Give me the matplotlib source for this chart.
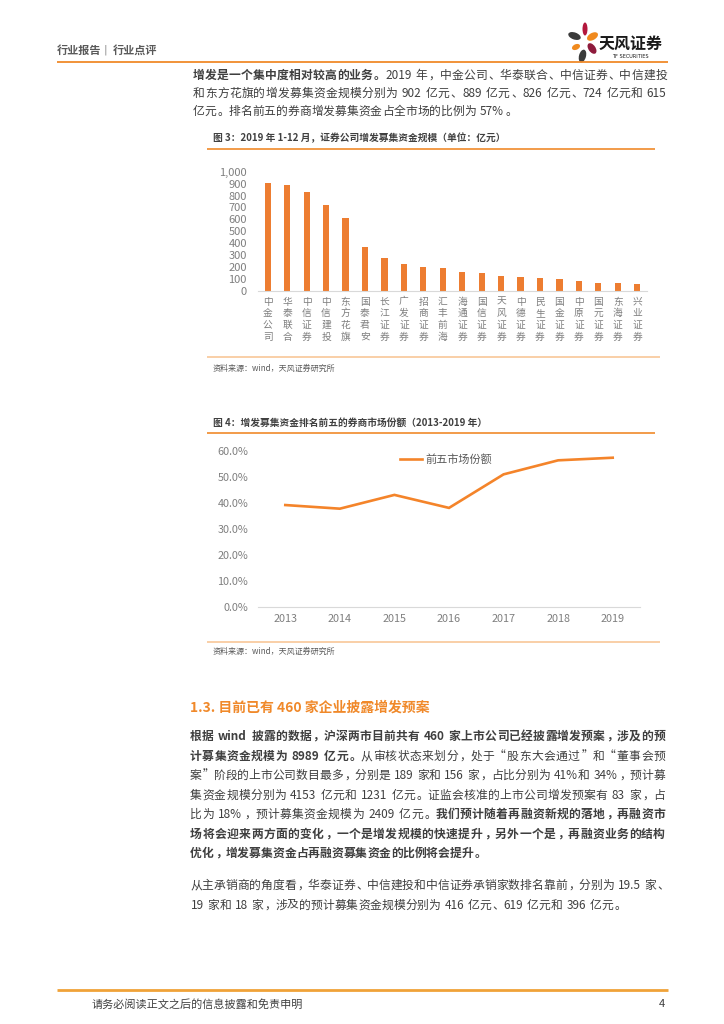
import math
import matplotlib
matplotlib.use('Agg')
import matplotlib.pyplot as plt
from matplotlib.patches import Ellipse
from matplotlib.backends.backend_agg import get_hinting_flag

plt.rcParams['font.family'] = ['Noto Sans CJK SC', 'DejaVu Sans']

################ data ################

brokers = ['中金公司', '华泰联合', '中信证券', '中信建投', '东方花旗', '国泰君安', '长江证券',
           '广发证券', '招商证券', '汇丰前海', '海通证券', '国信证券', '天风证券', '中德证券',
           '民生证券', '国金证券', '中原证券', '国元证券', '东海证券', '兴业证券']
raise_amt = [902, 889, 826, 724, 615, 366, 280, 224, 202, 194,
             157, 152, 127, 115, 106, 102, 88, 71, 70, 60]
bar_ticks = [0, 100, 200, 300, 400, 500, 600, 700, 800, 900, 1000]

years = ['2013', '2014', '2015', '2016', '2017', '2018', '2019']
top5_share = [0.391, 0.377, 0.430, 0.380, 0.509, 0.563, 0.573]
share_ticks = [0.0, 0.1, 0.2, 0.3, 0.4, 0.5, 0.6]

p1 = [
    [('增发是一个集中度相对较高的业务。', 'bold'), ('2019 年，中金公司、华泰联合、中信证券、中信建投', 'normal')],
    [('和东方花旗的增发募集资金规模分别为 902 亿元、889 亿元、826 亿元、724 亿元和 615', 'normal')],
    [('亿元。排名前五的券商增发募集资金占全市场的比例为 57%。', 'normal')],
]
p2 = [
    [('根据 wind 披露的数据，沪深两市目前共有 460 家上市公司已经披露增发预案，涉及的预', 'bold')],
    [('计募集资金规模为 8989 亿元。', 'bold'), ('从审核状态来划分，处于“股东大会通过”和“董事会预', 'normal')],
    [('案”阶段的上市公司数目最多，分别是 189 家和 156 家，占比分别为 41%和 34%，预计募', 'normal')],
    [('集资金规模分别为 4153 亿元和 1231 亿元。证监会核准的上市公司增发预案有 83 家，占', 'normal')],
    [('比为 18%，预计募集资金规模为 2409 亿元。', 'normal'), ('我们预计随着再融资新规的落地，再融资市', 'bold')],
    [('场将会迎来两方面的变化，一个是增发规模的快速提升，另外一个是，再融资业务的结构', 'bold')],
    [('优化，增发募集资金占再融资募集资金的比例将会提升。', 'bold')],
]
p3 = [
    [('从主承销商的角度看，华泰证券、中信建投和中信证券承销家数排名靠前，分别为 19.5 家、', 'normal')],
    [('19 家和 18 家，涉及的预计募集资金规模分别为 416 亿元、619 亿元和 396 亿元。', 'normal')],
]

W, H = 724, 1024
ORANGE = '#F08A2A'
TEXT = '#3F3F3F'
GREY = '#7F7F7F'

fig = plt.figure(figsize=(W / 100, H / 100), dpi=100)
pg = fig.add_axes([0, 0, 1, 1])
pg.set_xlim(0, W)
pg.set_ylim(H, 0)
pg.axis('off')
renderer = fig.canvas.get_renderer()


def baseline_error(o):
    '''
    Agg rounds each text bitmap on its own, so single glyphs can land one pixel
    off the baseline. This returns that offset (in pixels, downward) for a text.
    '''
    try:
        font = renderer._prepare_font(o.get_fontproperties())
        font.set_text(o.get_text(), 0, flags=get_hinting_flag())
        w, h = font.get_width_height()
        d = font.get_descent()
        ymax = (h - d) / 64
        nymin = d / 64
        fa = ymax - math.floor(ymax)
        fb = nymin - math.floor(nymin)
        return (1 if fb >= 0.5 else 0) - (1 if fa + fb >= 1 else 0)
    except Exception:
        return 0


def draw_line(segs, x0, y, size=8.5, color=TEXT, x1=None):
    '''
    Draws one line of mixed Chinese / latin text, justified up to x1 if given
    '''
    em = size * 100 / 72
    toks = []
    for text, w in segs:
        buf = ''
        for ch in text:
            if ch == ' ' or ord(ch) > 0x2000:
                if buf:
                    toks.append((buf, w, 'a'))
                    buf = ''
                toks.append((ch, w, 's' if ch == ' ' else 'c'))
            else:
                buf += ch
        if buf:
            toks.append((buf, w, 'a'))

    base = round(y + 0.37 * em)
    objs, widths = [], []
    for t, w, k in toks:
        if k == 's':
            objs.append(None)
            widths.append(0.28 * em)
            continue
        o = pg.text(0, base, t, fontsize=size, fontweight=w, color=color, va='baseline')
        o.set_y(base - baseline_error(o))
        objs.append(o)
        if k == 'c':
            widths.append(em)
        else:
            widths.append(o.get_window_extent(renderer).width + 0.08 * em)

    gap = 0
    if x1 is not None and len(toks) > 1:
        gap = (x1 - x0 - sum(widths)) / (len(toks) - 1)
    x = x0
    for (t, w, k), o, wd in zip(toks, objs, widths):
        if o is not None:
            if k == 'c':
                if t in '，。、：；）”':
                    o.set_x(x + 0.1 * em)
                    o.set_ha('left')
                elif t in '（“':
                    o.set_x(x + 0.9 * em)
                    o.set_ha('right')
                else:
                    o.set_x(x + em / 2)
                    o.set_ha('center')
            else:
                o.set_x(x + 0.04 * em)
        x += wd + gap


def draw_par(lines, x0, y0, step, x1):
    for i, segs in enumerate(lines):
        last = (i == len(lines) - 1)
        draw_line(segs, x0, y0 + i * step, x1=None if last else x1)


################ header ################

pg.text(57, 50, '行业报告', fontsize=8, fontweight='bold', color='#595959', va='center')
pg.text(104, 50, '|', fontsize=8, color='#8C8C8C', va='center', family='DejaVu Sans')
pg.text(113, 50, '行业点评', fontsize=8, fontweight='bold', color='#595959', va='center')
pg.plot([57, 668], [61.5, 61.5], color=ORANGE, lw=1.3, solid_capstyle='butt')

# logo petals
petals = [((585, 29), 5, 13, 0, '#B3173C'),
          ((592.5, 36.5), 7, 12, 60, '#F08A1E'),
          ((574.5, 36), 7, 13, -70, '#3B3B3B'),
          ((576, 47), 5.5, 8.5, 65, '#F08A1E'),
          ((592, 48.5), 7, 12, -35, '#8E1B3C'),
          ((582.5, 56), 7, 13, 15, '#3B3B3B')]
for xy, wd, ht, ang, col in petals:
    pg.add_patch(Ellipse(xy, wd, ht, angle=ang, color=col, lw=0))
pg.text(599, 44, '天风证券', fontsize=11.5, fontweight='bold', color='#1A1A1A', va='center')
pg.text(612, 56.5, 'TF SECURITIES', fontsize=3.6, color='#1A1A1A', va='center', family='DejaVu Sans')

################ paragraph 1 ################

draw_par(p1, 193, 75, 18, 667)

################ figure 3 ################

pg.text(213, 138, '图 3：2019 年 1-12 月，证券公司增发募集资金规模（单位：亿元）',
        fontsize=7, fontweight='bold', color='#404040', va='center')
pg.plot([207, 655], [148.5, 148.5], color=ORANGE, lw=1.2, solid_capstyle='butt')

ax1 = fig.add_axes([258 / W, 1 - 291 / H, (647 - 258) / W, (291 - 171.7) / H])
ax1.bar(range(len(brokers)), raise_amt, width=0.32, color='#ED7D31')
ax1.set_xlim(-0.5, len(brokers) - 0.5)
ax1.set_ylim(0, 1000)
ax1.set_yticks(bar_ticks)
ax1.set_yticklabels([f'{v:,}' for v in bar_ticks])
ax1.set_xticks(range(len(brokers)))
ax1.set_xticklabels(['\n'.join(b) for b in brokers], linespacing=1.22)
for s in ['top', 'right', 'left']:
    ax1.spines[s].set_visible(False)
ax1.spines['bottom'].set_color('#D9D9D9')
ax1.tick_params(length=0, colors=GREY, labelsize=8)
ax1.tick_params(axis='y', pad=8)
ax1.tick_params(axis='x', pad=4, labelsize=7)
ax1.set_facecolor('none')

pg.plot([207, 660], [357, 357], color='#F9CBA0', lw=1.3, solid_capstyle='butt')
pg.text(213, 368.5, '资料来源：wind，天风证券研究所', fontsize=5.8, color='#595959', va='center')

################ figure 4 ################

pg.text(213, 423, '图 4：增发募集资金排名前五的券商市场份额（2013-2019 年）',
        fontsize=7, fontweight='bold', color='#404040', va='center')
pg.plot([207, 655], [432.5, 432.5], color=ORANGE, lw=1.2, solid_capstyle='butt')

ax2 = fig.add_axes([258 / W, 1 - 606.7 / H, (640 - 258) / W, (606.7 - 450.7) / H])
ax2.plot(range(len(years)), top5_share, color='#F4842A', lw=1.9, label='前五市场份额',
         solid_joinstyle='miter')
ax2.set_xlim(-0.5, len(years) - 0.5)
ax2.set_ylim(0, 0.6)
ax2.set_yticks(share_ticks)
ax2.set_yticklabels([f'{v * 100:.1f}%' for v in share_ticks])
ax2.set_xticks(range(len(years)))
ax2.set_xticklabels(years)
for s in ['top', 'right', 'left']:
    ax2.spines[s].set_visible(False)
ax2.spines['bottom'].set_color('#D9D9D9')
ax2.tick_params(length=0, colors=GREY, labelsize=7.8)
ax2.tick_params(axis='y', pad=7)
ax2.tick_params(axis='x', pad=5)
ax2.set_facecolor('none')
for line in ax2.get_lines():
    line.set_clip_on(False)
leg = ax2.legend(loc='center left', bbox_to_anchor=((400 - 258) / 382, (606.7 - 460) / 156),
                 frameon=False, fontsize=8, borderaxespad=0, borderpad=0,
                 handlelength=2.0, handletextpad=0.3)
for t in leg.get_texts():
    t.set_color('#595959')

pg.plot([207, 660], [641.5, 641.5], color='#F9CBA0', lw=1.3, solid_capstyle='butt')
pg.text(213, 651.5, '资料来源：wind，天风证券研究所', fontsize=5.8, color='#595959', va='center')

################ section 1.3 ################

pg.text(190, 708, '1.3. 目前已有 460 家企业披露增发预案', fontsize=10, fontweight='bold',
        color='#F0892A', va='center')

draw_par(p2, 190, 736, 19.5, 665)
draw_par(p3, 190, 885, 19.5, 668)

################ footer ################

pg.plot([57, 668], [990, 990], color='#F0A238', lw=2, solid_capstyle='butt')
pg.text(92, 1004, '请务必阅读正文之后的信息披露和免责申明', fontsize=8, color='#404040', va='center')
pg.text(665, 1004, '4', fontsize=8, color='#404040', va='center', ha='right')

fig.savefig('out.png', dpi=100)
